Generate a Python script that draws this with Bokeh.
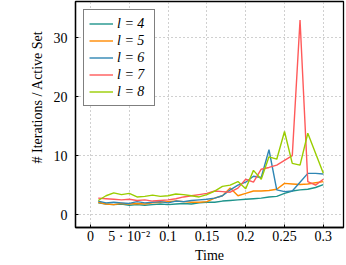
from bokeh.plotting import figure
from bokeh.models import FixedTicker, Range1d, Legend, LegendItem
from bokeh.embed import file_html
from bokeh.resources import INLINE

time = [0.01, 0.02, 0.03, 0.04, 0.05, 0.06, 0.07, 0.08, 0.09, 0.10,
        0.11, 0.12, 0.13, 0.14, 0.15, 0.16, 0.17, 0.18, 0.19, 0.20,
        0.21, 0.22, 0.23, 0.24, 0.25, 0.26, 0.27, 0.28, 0.29, 0.30]

l4 = [2.0, 1.8, 1.7, 1.8, 1.6, 1.7, 1.6, 1.7, 1.8, 1.7,
      1.8, 1.9, 1.8, 2.0, 2.1, 2.1, 2.3, 2.4, 2.5, 2.6,
      2.7, 2.8, 3.0, 3.1, 3.6, 4.0, 4.2, 4.3, 4.6, 5.1]
l5 = [2.1, 1.8, 1.7, 1.9, 1.8, 1.9, 1.8, 2.0, 2.1, 2.2,
      2.3, 2.2, 2.1, 2.1, 2.2, 2.8, 3.2, 4.5, 3.2, 3.6,
      4.0, 4.0, 4.1, 4.3, 5.3, 5.2, 5.1, 5.2, 5.4, 5.6]
l6 = [2.3, 2.0, 2.1, 2.0, 1.9, 2.2, 2.0, 2.1, 2.2, 2.0,
      2.3, 2.2, 2.4, 2.5, 2.6, 2.8, 3.2, 4.2, 5.0, 5.5,
      6.5, 6.3, 11.0, 4.2, 3.9, 4.0, 5.5, 7.0, 7.0, 6.9]
l7 = [2.8, 2.7, 2.6, 2.5, 2.6, 2.4, 2.5, 2.3, 2.4, 2.5,
      2.7, 3.0, 3.2, 3.4, 3.6, 4.0, 3.9, 3.8, 4.5, 6.0,
      5.5, 7.7, 8.0, 8.4, 9.2, 10.0, 33.0, 5.6, 5.0, 6.0]
l8 = [2.4, 3.2, 3.7, 3.4, 3.6, 3.0, 3.1, 3.3, 3.1, 3.2,
      3.5, 3.4, 3.2, 3.0, 3.4, 4.0, 4.8, 5.0, 5.6, 4.4,
      7.5, 6.0, 9.8, 9.4, 14.1, 8.7, 8.4, 13.8, 10.4, 7.0]

series = [("l = 4", l4, "#1f948c"),
          ("l = 5", l5, "#ff8a00"),
          ("l = 6", l6, "#2f86b4"),
          ("l = 7", l7, "#ff5a5a"),
          ("l = 8", l8, "#9acd00")]

x_ticks = [0, 0.05, 0.1, 0.15, 0.2, 0.25, 0.3]
x_tick_labels = ["0", "5 \u00b7 10\u207b\u00b2", "0.1", "0.15", "0.2", "0.25", "0.3"]
y_ticks = [0, 10, 20, 30]
y_label = "# Iterations / Active Set"
x_label = "Time"

FONT = "Liberation Serif"

p = figure(width=346, height=265, output_backend="svg", toolbar_location=None,
           x_range=Range1d(-0.0193, 0.326), y_range=Range1d(-2.18, 36.13),
           min_border_left=75, min_border_right=3, min_border_top=1, min_border_bottom=36)

p.outline_line_color = "black"
p.outline_line_width = 1.3
p.background_fill_color = "white"
p.border_fill_color = "white"

items = []
for name, vals, col in series:
    r = p.line(time, vals, line_color=col, line_width=1.4)
    items.append(LegendItem(label=name, renderers=[r]))

for ax in (p.xaxis[0], p.yaxis[0]):
    ax.major_tick_in = 3
    ax.major_tick_out = 0
    ax.minor_tick_in = 0
    ax.minor_tick_out = 0
    ax.axis_line_color = "black"
    ax.axis_line_width = 1.3
    ax.major_tick_line_color = "black"
    ax.major_label_text_font = FONT
    ax.major_label_text_font_size = "14px"
    ax.major_label_text_color = "black"
    ax.axis_label_text_font = FONT
    ax.axis_label_text_font_size = "14px"
    ax.axis_label_text_font_style = "normal"
    ax.axis_label_text_color = "black"

p.xaxis[0].ticker = FixedTicker(ticks=x_ticks)
p.xaxis[0].major_label_overrides = {t: s for t, s in zip(x_ticks, x_tick_labels)}
p.xaxis[0].axis_label = x_label
p.xaxis[0].major_label_standoff = 1
p.xaxis[0].axis_label_standoff = 1

p.yaxis[0].ticker = FixedTicker(ticks=y_ticks)
p.yaxis[0].axis_label = "\u00a0" * 10 + y_label
p.yaxis[0].major_label_standoff = 8
p.yaxis[0].axis_label_standoff = 6

p.xgrid.ticker = FixedTicker(ticks=x_ticks)
p.ygrid.ticker = FixedTicker(ticks=y_ticks)
for g in (p.xgrid[0], p.ygrid[0]):
    g.grid_line_color = "#a0a0a0"
    g.grid_line_dash = "1 3"
    g.grid_line_width = 1

legend = Legend(items=items, location="top_left", margin=8)
legend.label_text_font = FONT
legend.label_text_font_size = "14px"
legend.label_text_font_style = "italic"
legend.label_text_color = "black"
legend.glyph_width = 24
legend.glyph_height = 17
legend.label_height = 17
legend.label_width = 32
legend.label_standoff = 4
legend.spacing = 0
legend.padding = 5
legend.border_line_color = "black"
legend.border_line_width = 1
legend.background_fill_alpha = 1
p.add_layout(legend)

open("out.html", "w").write(file_html(p, INLINE))
